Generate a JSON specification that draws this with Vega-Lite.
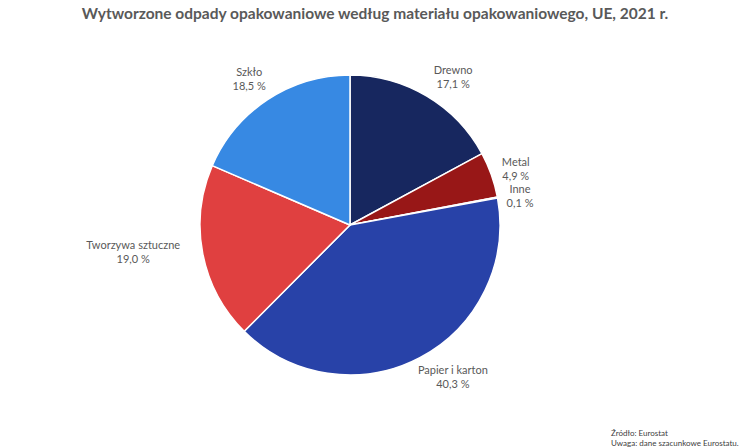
{
  "$schema": "https://vega.github.io/schema/vega-lite/v6.json",
  "padding": {"left": 0, "right": 50, "top": 6, "bottom": 0},
  "background": "white",
  "title": {
    "text": ["Źródło:  Eurostat", "Uwaga: dane szacunkowe Eurostatu."],
    "orient": "bottom",
    "anchor": "end",
    "align": "left",
    "dx": -89,
    "offset": 14,
    "font": "Lato",
    "fontSize": 8,
    "fontWeight": "normal",
    "color": "#404040",
    "lineHeight": 10
  },
  "vconcat": [
    {
      "width": 700,
      "height": 382,
      "title": {
        "text": "Wytworzone odpady opakowaniowe według materiału opakowaniowego, UE, 2021 r.",
        "anchor": "middle",
        "dx": 25,
        "font": "Lato",
        "fontSize": 15.5,
        "fontWeight": "bold",
        "color": "#595959",
        "offset": 12
      },
      "data": {
        "values": [
          {"idx": 1, "material": "Drewno", "share": 17.1, "label": "17,1 %"},
          {"idx": 2, "material": "Metal", "share": 4.9, "label": "4,9 %"},
          {"idx": 3, "material": "Inne", "share": 0.1, "label": "0,1 %"},
          {"idx": 4, "material": "Papier i karton", "share": 40.3, "label": "40,3 %"},
          {"idx": 5, "material": "Tworzywa sztuczne", "share": 19.0, "label": "19,0 %"},
          {"idx": 6, "material": "Szkło", "share": 18.5, "label": "18,5 %"}
        ]
      },
      "transform": [{"calculate": "[datum.material, datum.label]", "as": "lines"}],
      "encoding": {
        "theta": {"field": "share", "type": "quantitative", "stack": true},
        "order": {"field": "idx", "type": "quantitative"}
      },
      "layer": [
        {
          "mark": {"type": "arc", "outerRadius": 150, "stroke": "white", "strokeWidth": 1.5},
          "encoding": {
            "color": {
              "field": "material",
              "type": "nominal",
              "legend": null,
              "scale": {
                "domain": ["Drewno", "Metal", "Inne", "Papier i karton", "Tworzywa sztuczne", "Szkło"],
                "range": ["#17275F", "#981717", "#2A46AA", "#2842A8", "#E04040", "#3789E3"]
              }
            }
          }
        },
        {
          "mark": {"type": "text", "radius": 178, "dx": 12, "dy": -1, "lineHeight": 14, "font": "Lato", "fontSize": 11, "color": "#595959"},
          "encoding": {"text": {"condition": {"test": "datum.material != 'Drewno'", "value": ""}, "field": "lines"}}
        },
        {
          "mark": {"type": "text", "radius": 178, "dx": -2, "dy": -2, "lineHeight": 14, "font": "Lato", "fontSize": 11, "color": "#595959"},
          "encoding": {"text": {"condition": {"test": "datum.material != 'Metal'", "value": ""}, "field": "lines"}}
        },
        {
          "mark": {"type": "text", "radius": 178, "dx": -5, "dy": -2, "lineHeight": 14, "font": "Lato", "fontSize": 11, "color": "#595959"},
          "encoding": {"text": {"condition": {"test": "datum.material != 'Inne'", "value": ""}, "field": "lines"}}
        },
        {
          "mark": {"type": "text", "radius": 178, "dx": 20, "dy": -12, "lineHeight": 14, "font": "Lato", "fontSize": 11, "color": "#595959"},
          "encoding": {"text": {"condition": {"test": "datum.material != 'Papier i karton'", "value": ""}, "field": "lines"}}
        },
        {
          "mark": {"type": "text", "radius": 178, "dx": -42, "dy": -13, "lineHeight": 14, "font": "Lato", "fontSize": 11, "color": "#595959"},
          "encoding": {"text": {"condition": {"test": "datum.material != 'Tworzywa sztuczne'", "value": ""}, "field": "lines"}}
        },
        {
          "mark": {"type": "text", "radius": 178, "dx": -3, "dy": -3, "lineHeight": 14, "font": "Lato", "fontSize": 11, "color": "#595959"},
          "encoding": {"text": {"condition": {"test": "datum.material != 'Szkło'", "value": ""}, "field": "lines"}}
        }
      ]
    }
  ],
  "config": {"view": {"stroke": null}}
}
